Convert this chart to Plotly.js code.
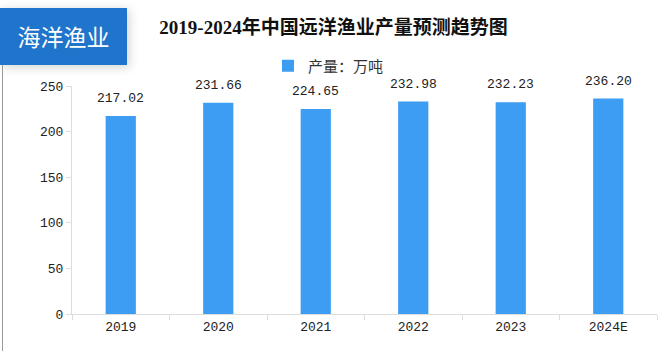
<!DOCTYPE html>
<html>
<head>
<meta charset="utf-8">
<script src="https://cdn.plot.ly/plotly-3.0.1.min.js"></script>
<style>
html,body{margin:0;padding:0;background:#fff;}
#wrap{position:relative;width:667px;height:351px;overflow:hidden;}
#chart{position:absolute;left:0;top:0;width:667px;height:351px;}
#badge{position:absolute;left:0;top:8px;width:127px;height:57px;background:#1f74cc;color:#fff;
font-family:"Noto Sans CJK SC",sans-serif;font-size:23px;line-height:57px;text-align:center;
box-shadow:2px 2px 10px rgba(0,0,0,0.18);z-index:2;}
#border{position:absolute;left:2px;top:65px;width:1px;height:286px;background:#999;z-index:2;}
</style>
</head>
<body>
<div id="wrap">
<div id="chart"></div>
<div id="badge">海洋渔业</div>
<div id="border"></div>
</div>
<script>
const categories = ["2019","2020","2021","2022","2023","2024E"];
const production = [217.02, 231.66, 224.65, 232.98, 232.23, 236.20];
const labels = ["217.02","231.66","224.65","232.98","232.23","236.20"];
const yTicks = [0,50,100,150,200,250];

const tickFont = {family:"Liberation Mono, Noto Sans CJK SC, monospace", size:13, color:"#222"};
const labelFont = {family:"Liberation Mono, Noto Sans CJK SC, monospace", size:13, color:"#222"};

const annotations = categories.map((c, i) => ({
  xref:"x", yref:"y",
  x:i, y:production[i], text:labels[i], showarrow:false,
  xanchor:"center", yanchor:"bottom", yshift:8, font:labelFont
}));

Plotly.newPlot("chart", [{
  type:"bar",
  x:categories,
  y:production,
  name:"产量：万吨",
  marker:{color:"#3d9df3"},
  hoverinfo:"x+y"
}], {
  width:667, height:351,
  margin:{l:72, r:10, t:86, b:37},
  paper_bgcolor:"#fff", plot_bgcolor:"#fff",
  bargap:0.69,
  annotations:annotations,
  title:{text:"<b>2019-2024年中国远洋渔业产量预测趋势图</b>", x:0.5, xanchor:"center", y:0.922, yanchor:"middle",
    font:{family:"Liberation Serif, Noto Sans CJK SC, serif", size:19, color:"#111"}},
  showlegend:true,
  legend:{orientation:"h", x:0.335, xanchor:"left", y:0.088+1, yanchor:"middle", itemwidth:30,
    font:{family:"Noto Sans CJK SC, sans-serif", size:15, color:"#333"}},
  xaxis:{type:"category", categoryorder:"array", categoryarray:categories, showgrid:false, showline:true, linecolor:"#ddd", linewidth:1,
    ticks:"outside", ticklen:5, tickcolor:"#ddd", tickson:"boundaries",
    tickfont:tickFont, zeroline:false},
  yaxis:{range:[0,250], tickvals:yTicks, showgrid:false, showline:true, linecolor:"#ddd", linewidth:1,
    ticks:"outside", ticklen:5, tickcolor:"#ddd", tickfont:tickFont, zeroline:false}
}, {displayModeBar:false, staticPlot:true});
</script>
</body>
</html>
